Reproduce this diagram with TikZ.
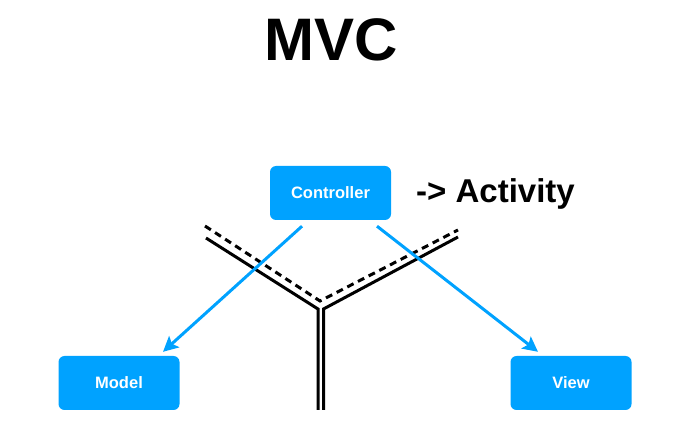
\documentclass[tikz,border=0pt]{standalone}
\usepackage{fontspec}
\setmainfont{Liberation Sans}
\usetikzlibrary{arrows.meta}
\definecolor{mvcblue}{RGB}{0,162,255}

\begin{document}
\begin{tikzpicture}[x=1pt,y=-1pt,
	mvcbox/.style={fill=mvcblue, rounded corners=6, minimum width=121, minimum height=54, inner sep=0, text=white, font=\bfseries\fontsize{16.5}{16.5}\selectfont},
	bluearrow/.style={draw=mvcblue, line width=3, -{Stealth[length=15,width=15,inset=3]}},
	track/.style={line width=3}]
	\useasboundingbox (0,0) rectangle (680,435);
	
	% Title
	\node (title) at (331,40) {\bfseries\fontsize{60}{60}\selectfont MVC};
	
	% Text Node
	\node [mvcbox] (ctrl) at (330.5,193) {Controller};
	% Text Node
	\node [anchor=base west, inner sep=0] (act) at (416,203) {\bfseries\fontsize{33}{33}\selectfont -> Activity};
	% Text Node
	\node [mvcbox] (model) at (119,383) {Model};
	% Text Node
	\node [mvcbox] (view) at (571,383) {View};
	
	% Track lines
	\draw [track, dash pattern=on 7 off 5] (205,226) -- (320,301) -- (458,230);
	\draw [track] (206,238) -- (318,309) -- (318,410);
	\draw [track] (323.5,410) -- (323.5,309) -- (458,237);
	
	% Connection
	\draw [bluearrow] ([xshift=-28.5,yshift=-6]ctrl.south) -- ([xshift=44,yshift=4]model.north);
	% Connection
	\draw [bluearrow] ([xshift=46.5,yshift=-6]ctrl.south) -- ([xshift=-33,yshift=4]view.north);
	
\end{tikzpicture}
\end{document}
